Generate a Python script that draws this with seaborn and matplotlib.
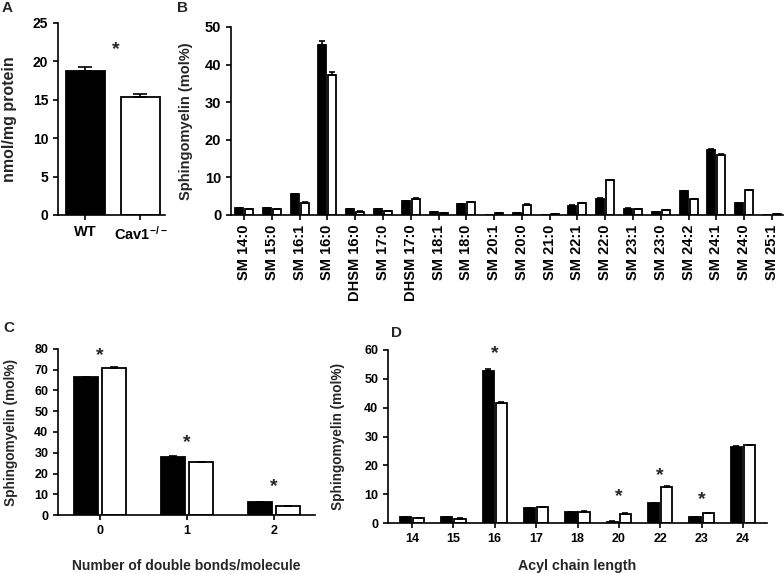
import numpy as np
import pandas as pd
import matplotlib
matplotlib.use("Agg")
import matplotlib.pyplot as plt
import seaborn as sns

sns.set_style("ticks")
plt.rcParams.update({
    "font.family": ["Liberation Sans", "DejaVu Sans"],
    "font.weight": "bold",
    "axes.labelweight": "bold",
    "axes.linewidth": 1.2,
    "xtick.major.width": 1.2,
    "ytick.major.width": 1.2,
    "xtick.major.size": 3.5,
    "ytick.major.size": 3.5,
    "xtick.color": "black",
    "ytick.color": "black",
    "axes.edgecolor": "black",
    "mathtext.fontset": "custom",
    "mathtext.rm": "Liberation Sans:bold",
    "mathtext.bf": "Liberation Sans:bold",
    "mathtext.default": "bf",
})

GENOTYPES = ["WT", "Cav1-/-"]
PALETTE = {"WT": "black", "Cav1-/-": "white"}

# Panel A: total sphingomyelin
a_values = [18.7, 15.3]
a_err = [0.6, 0.5]

# Panel B: molecular species
b_species = ["SM 14:0", "SM 15:0", "SM 16:1", "SM 16:0", "DHSM 16:0", "SM 17:0",
             "DHSM 17:0", "SM 18:1", "SM 18:0", "SM 20:1", "SM 20:0", "SM 21:0",
             "SM 22:1", "SM 22:0", "SM 23:1", "SM 23:0", "SM 24:2", "SM 24:1",
             "SM 24:0", "SM 25:1"]
b_wt = [1.8, 1.8, 5.6, 45.3, 1.5, 1.6, 3.6, 0.8, 2.8, 0.0, 0.5, 0.0,
        2.5, 4.3, 1.7, 0.7, 6.4, 17.4, 3.2, 0.0]
b_ko = [1.6, 1.5, 3.3, 37.3, 0.9, 1.0, 4.3, 0.5, 3.4, 0.6, 2.7, 0.3,
        3.2, 9.2, 1.5, 1.4, 4.2, 16.0, 6.6, 0.2]
b_wt_err = [0.1, 0.1, 0.1, 0.9, 0.1, 0.1, 0.1, 0.05, 0.1, 0.0, 0.05, 0.0,
            0.1, 0.1, 0.05, 0.05, 0.1, 0.2, 0.1, 0.0]
b_ko_err = [0.1, 0.1, 0.1, 0.7, 0.05, 0.05, 0.1, 0.05, 0.1, 0.05, 0.1, 0.05,
            0.1, 0.2, 0.05, 0.05, 0.1, 0.2, 0.1, 0.05]

# Panel C: number of double bonds
c_bonds = ["0", "1", "2"]
c_wt = [66.3, 28.0, 6.4]
c_ko = [70.7, 25.4, 4.1]
c_wt_err = [0.3, 0.3, 0.1]
c_ko_err = [0.4, 0.3, 0.1]
c_stars = [77, 35, 13.5]

# Panel D: acyl chain length
d_length = ["14", "15", "16", "17", "18", "20", "22", "23", "24"]
d_wt = [2.0, 2.0, 52.6, 5.2, 3.8, 0.5, 6.8, 2.0, 26.5]
d_ko = [1.7, 1.5, 41.6, 5.5, 3.9, 3.2, 12.5, 3.3, 26.9]
d_wt_err = [0.1, 0.1, 0.9, 0.1, 0.1, 0.05, 0.1, 0.1, 0.2]
d_ko_err = [0.1, 0.1, 0.4, 0.1, 0.1, 0.1, 0.2, 0.1, 0.2]
d_stars = {"16": 58.6, "20": 9.0, "22": 16.3, "23": 8.0}


def long_frame(cats, wt, ko, wt_err, ko_err):
    return pd.DataFrame({
        "cat": list(cats) * 2,
        "geno": ["WT"] * len(cats) + ["Cav1-/-"] * len(cats),
        "val": list(wt) + list(ko),
        "err": list(wt_err) + list(ko_err),
    })


def up_errorbars(ax, errs_by_geno, capsize):
    # seaborn gives one container per hue level, in hue_order
    for cont, errs in zip(ax.containers, errs_by_geno):
        for bar, e in zip(cont, errs):
            if e <= 0:
                continue
            x = bar.get_x() + bar.get_width() / 2
            h = bar.get_height()
            ax.errorbar(x, h, yerr=[[0], [e]], fmt="none", ecolor="black",
                        elinewidth=1.2, capsize=capsize, capthick=1.2)


def grouped(ax, df, order, width, gap, capsize):
    sns.barplot(data=df, x="cat", y="val", hue="geno", order=order,
                hue_order=GENOTYPES, palette=PALETTE, edgecolor="black",
                linewidth=1.3, width=width, gap=gap, errorbar=None,
                legend=False, ax=ax)
    errs = [df[df.geno == g].set_index("cat").loc[order, "err"].values
            for g in GENOTYPES]
    up_errorbars(ax, errs, capsize)


def style(ax):
    sns.despine(ax=ax)
    ax.set_xlabel("")
    ax.tick_params(axis="both", colors="black")


fig = plt.figure(figsize=(7.84, 5.73), dpi=100)
W, H = 784.0, 573.0


def add_ax(l, r, t, b):
    return fig.add_axes([l / W, (H - b) / H, (r - l) / W, (b - t) / H])


# ---------------- A ----------------
axA = add_ax(58, 165, 23, 215)
dfA = pd.DataFrame({"geno": GENOTYPES, "val": a_values, "err": a_err})
sns.barplot(data=dfA, x="geno", y="val", hue="geno", hue_order=GENOTYPES,
            palette=PALETTE, edgecolor="black", linewidth=1.3, width=0.7,
            errorbar=None, legend=False, ax=axA)
for cont, e in zip(axA.containers, a_err):
    for bar in cont:
        axA.errorbar(bar.get_x() + bar.get_width() / 2, bar.get_height(),
                     yerr=[[0], [e]], fmt="none", ecolor="black",
                     elinewidth=1.2, capsize=5, capthick=1.2)
style(axA)
axA.set_xlim(-0.5, 1.45)
axA.set_ylim(0, 25)
axA.set_yticks(range(0, 26, 5))
axA.set_xticks([0, 1])
axA.set_xticklabels(["WT", r"Cav1$^{-/-}$"], fontsize=10.5, fontweight="bold")
axA.tick_params(axis="y", labelsize=10)
axA.set_ylabel("nmol/mg protein", fontsize=11.5, fontweight="bold")
axA.yaxis.set_label_coords(-0.38, 0.5)
axA.text(0.55, 21.5, "*", ha="center", va="center", fontsize=14)

# ---------------- B ----------------
axB = add_ax(231, 783, 27, 215)
dfB = long_frame(b_species, b_wt, b_ko, b_wt_err, b_ko_err)
grouped(axB, dfB, b_species, 0.72, 0.2, 2)
style(axB)
axB.set_xlim(-0.47, 19.4)
axB.set_ylim(0, 50)
axB.set_yticks(range(0, 51, 10))
axB.tick_params(axis="y", labelsize=10.5)
axB.tick_params(axis="x", labelsize=10.5, rotation=90)
for t in axB.get_xticklabels():
    t.set_fontweight("bold")
axB.set_ylabel("Sphingomyelin (mol%)", fontsize=10.5, fontweight="bold")
axB.yaxis.set_label_coords(-0.068, 0.5)

# ---------------- C ----------------
axC = add_ax(58, 315, 349, 515)
dfC = long_frame(c_bonds, c_wt, c_ko, c_wt_err, c_ko_err)
grouped(axC, dfC, c_bonds, 0.64, 0.15, 3)
style(axC)
axC.set_xlim(-0.48, 2.47)
axC.set_ylim(0, 80)
axC.set_yticks(range(0, 81, 10))
axC.tick_params(axis="both", labelsize=9)
for t in axC.get_xticklabels() + axC.get_yticklabels():
    t.set_fontweight("bold")
axC.set_xlabel("Number of double bonds/molecule", fontsize=10,
               fontweight="bold", labelpad=16)
axC.set_ylabel("Sphingomyelin (mol%)", fontsize=9.8, fontweight="bold")
axC.yaxis.set_label_coords(-0.156, 0.5)
for i, y in enumerate(c_stars):
    axC.text(i, y, "*", ha="center", va="center", fontsize=14)

# ---------------- D ----------------
axD = add_ax(388, 767, 350, 523)
dfD = long_frame(d_length, d_wt, d_ko, d_wt_err, d_ko_err)
grouped(axD, dfD, d_length, 0.64, 0.15, 2.5)
style(axD)
axD.set_xlim(-0.58, 8.58)
axD.set_ylim(0, 60)
axD.set_yticks(range(0, 61, 10))
axD.tick_params(axis="both", labelsize=9)
for t in axD.get_xticklabels() + axD.get_yticklabels():
    t.set_fontweight("bold")
axD.set_xlabel("Acyl chain length", fontsize=10.3, fontweight="bold",
               labelpad=10)
axD.set_ylabel("Sphingomyelin (mol%)", fontsize=9.8, fontweight="bold")
axD.yaxis.set_label_coords(-0.113, 0.5)
for lab, y in d_stars.items():
    axD.text(d_length.index(lab), y, "*", ha="center", va="center",
             fontsize=14)

# panel letters
for letter, x, y in [("A", 7, 8), ("B", 182, 8), ("C", 9, 328), ("D", 397, 333)]:
    fig.text(x / W, 1 - y / H, letter, ha="center", va="center",
             fontsize=11, fontweight="bold")

fig.savefig("out.png", dpi=100)
